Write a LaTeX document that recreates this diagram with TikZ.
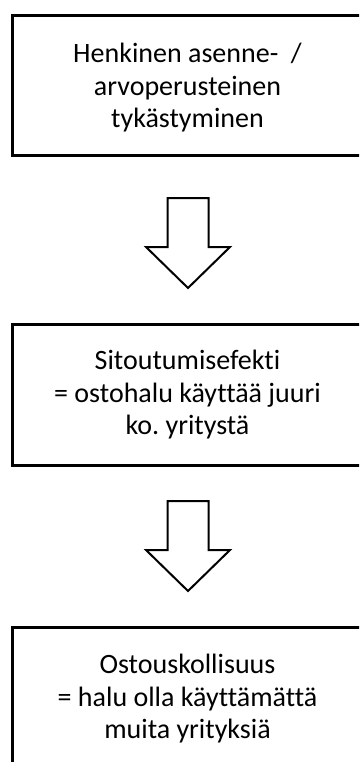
\documentclass[tikz,border=0pt]{standalone}
\usepackage{fontspec}
\setmainfont{Carlito}[Ligatures={NoCommon}]
\frenchspacing
\begin{document}
\begin{tikzpicture}[x=1pt,y=-1pt,
  box/.style={draw, line width=2.8pt, inner sep=0pt, anchor=north west},
  txt/.style={align=center, font=\fontsize{28}{32.5}\selectfont, inner sep=0pt},
  hollowarrow/.pic={\draw[line width=2pt, line join=miter]
    (-20.5,0) -- (20.5,0) -- (20.5,49) -- (42,49) -- (0,90) -- (-42,49) -- (-20.5,49) -- cycle;}
]
\useasboundingbox (0,0) rectangle (359,762);
\clip (0,0) rectangle (359,762);
\node[box, minimum width=353pt, minimum height=140pt] (b1) at (11,14) {};
\node[box, minimum width=353pt, minimum height=141pt] (b2) at (11,323) {};
\node[box, minimum width=353pt, minimum height=200pt] (b3) at (11,626) {};
\node[txt] (t1) at (187.5,88) {Henkinen asenne-~~/\\arvoperusteinen\\tykästyminen};
\node[txt] (t2) at (187.5,395) {Sitoutumisefekti\\= ostohalu käyttää juuri\\ko. yritystä};
\node[txt] (t3) at (187.5,699) {Ostouskollisuus\\= halu olla käyttämättä\\muita yrityksiä};
\pic (a1) at (188,198) {hollowarrow};
\pic (a2) at (188,501) {hollowarrow};
\end{tikzpicture}
\end{document}
